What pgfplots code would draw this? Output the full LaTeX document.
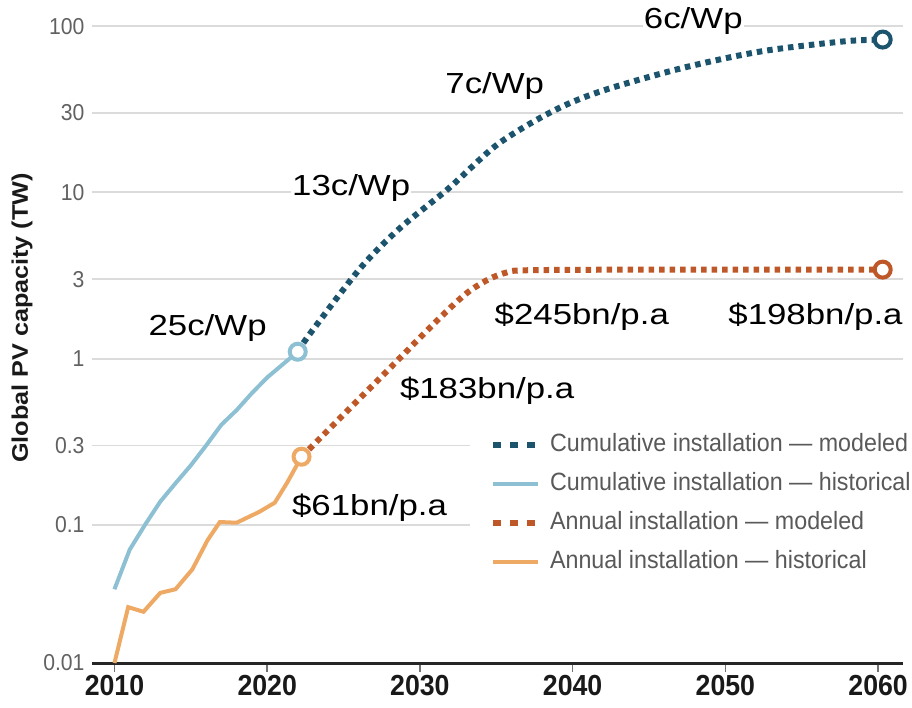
\documentclass[border=0pt]{standalone}
\usepackage{pgfplots}
\pgfplotsset{compat=1.18}
\usepackage{fontspec}
\setmainfont{Liberation Sans}
\newfontfamily\narrowfont[FakeStretch=0.92]{Liberation Sans}
\newfontfamily\legfont[FakeStretch=0.93]{Liberation Sans}
\newfontfamily\widefont[FakeStretch=1.2]{Liberation Sans}
\newfontfamily\labelfont[FakeStretch=1.12]{Liberation Sans}

\definecolor{cummod}{RGB}{28,84,110}
\definecolor{cumhist}{RGB}{142,192,212}
\definecolor{annmod}{RGB}{191,88,40}
\definecolor{annhist}{RGB}{238,170,100}

\pgfplotsset{
  dotlegend/.style={legend image code/.code={\draw[##1, dash pattern=on 8pt off 9pt] (0pt,0pt) -- (45pt,0pt);}},
  linelegend/.style={legend image code/.code={\draw[##1] (0pt,0pt) -- (45pt,0pt);}},
  endcircle/.style={forget plot, only marks, mark=*, mark size=8pt,
    mark options={fill=white, draw=#1, line width=4pt}},
}

\begin{document}
\begin{tikzpicture}
\begin{axis}[
  scale only axis, width=811pt, height=653pt,
  xmin=2008.53, xmax=2061.63,
  ymode=log, ymin=0.01476, ymax=125,
  clip=false,
  axis x line*=bottom, axis y line*=left,
  y axis line style={draw=none},
  x axis line style={line width=3pt, draw=black!85},
  xtick={2010,2020,2030,2040,2050,2060},
  xticklabels={2010,2020,2030,2040,2050,2060},
  ytick={0.01476,0.1,0.3,1,3,10,30,100},
  yticklabels={0.01,0.1,0.3,1,3,10,30,100},
  yminorticks=false,
  ymajorgrids, grid style={draw=black!14, line width=1.8pt},
  ytick style={draw=none},
  xtick style={draw=black!55, line width=1.5pt},
  tick align=outside, major tick length=9pt,
  xticklabel style={font=\narrowfont\bfseries\fontsize{29}{29}\selectfont, text=black!90},
  yticklabel style={font=\narrowfont\fontsize{23}{23}\selectfont, text=black!62, anchor=east, xshift=5pt},
  legend style={at={(0.466,0.36)}, anchor=north west, draw=none, fill=white,
    inner xsep=20pt, inner ysep=6pt, row sep=17pt, column sep=9pt,
    font=\legfont\fontsize{25}{25}\selectfont, text=black!65,
    nodes={inner sep=0pt, text height=17pt, text depth=5pt}},
  legend cell align=left,
]
% cumulative, modeled
\addplot[cummod, line width=6pt, dash pattern=on 5.5pt off 5pt, smooth, dotlegend]
  coordinates {(2022.0,1.10) (2022.8,1.41) (2026.1,3.5) (2028.7,6.1) (2031.9,10.6)
  (2035.1,19.5) (2038.7,30.8) (2041.9,40.7) (2047.2,56) (2052.4,70.6) (2057.8,81) (2060.3,83)};
\addlegendentry{Cumulative installation — modeled}
% cumulative, historical
\addplot[cumhist, line width=4pt, linelegend]
  coordinates {(2010,0.041) (2011,0.071) (2012,0.1) (2013,0.138) (2014,0.178) (2015,0.228)
  (2016,0.30) (2017,0.40) (2018,0.49) (2019,0.62) (2020,0.77) (2021,0.92) (2022.0,1.10)};
\addlegendentry{Cumulative installation — historical}
% annual, modeled
\addplot[annmod, line width=6pt, dash pattern=on 5.5pt off 5pt, smooth, dotlegend]
  coordinates {(2022.25,0.257) (2025,0.46) (2028,0.87) (2031,1.65) (2033,2.45)
  (2034.5,3.0) (2035.7,3.3) (2037,3.4) (2045,3.43) (2060.3,3.43)};
\addlegendentry{Annual installation — modeled}
% annual, historical
\addplot[annhist, line width=4pt, linelegend]
  coordinates {(2010,0.01476) (2010.9,0.032) (2011.9,0.030) (2013,0.039) (2014,0.041)
  (2015.1,0.054) (2016.1,0.081) (2016.9,0.104) (2018,0.103) (2019.5,0.12) (2020.5,0.136)
  (2021.3,0.179) (2022.25,0.257)};
\addlegendentry{Annual installation — historical}
% end circles
\addplot[endcircle=cumhist] coordinates {(2022.0,1.10)};
\addplot[endcircle=annhist] coordinates {(2022.25,0.257)};
\addplot[endcircle=cummod] coordinates {(2060.3,83)};
\addplot[endcircle=annmod] coordinates {(2060.3,3.43)};
% annotations
\begin{scope}[every node/.style={fill=white, inner sep=1pt, text=black,
  font=\widefont\fontsize{29}{29}\selectfont}]
\node at (axis cs:2047.9,107) {6c/Wp};
\node at (axis cs:2034.9,43.5) {7c/Wp};
\node at (axis cs:2025.5,10.6) {13c/Wp};
\node at (axis cs:2016.1,1.52) {25c/Wp};
\node at (axis cs:2040.6,1.79) {\$245bn/p.a};
\node at (axis cs:2055.9,1.79) {\$198bn/p.a};
\node at (axis cs:2034.4,0.641) {\$183bn/p.a};
\node at (axis cs:2026.7,0.126) {\$61bn/p.a};
\end{scope}
\end{axis}
\node[rotate=90, font=\labelfont\bfseries\fontsize{22.5}{22.5}\selectfont, text=black!90]
  at (-70pt,345pt) {Global PV capacity (TW)};
\pgfresetboundingbox
\path[use as bounding box] (-92pt,-44pt) rectangle (820pt,663pt);
\end{tikzpicture}
\end{document}
